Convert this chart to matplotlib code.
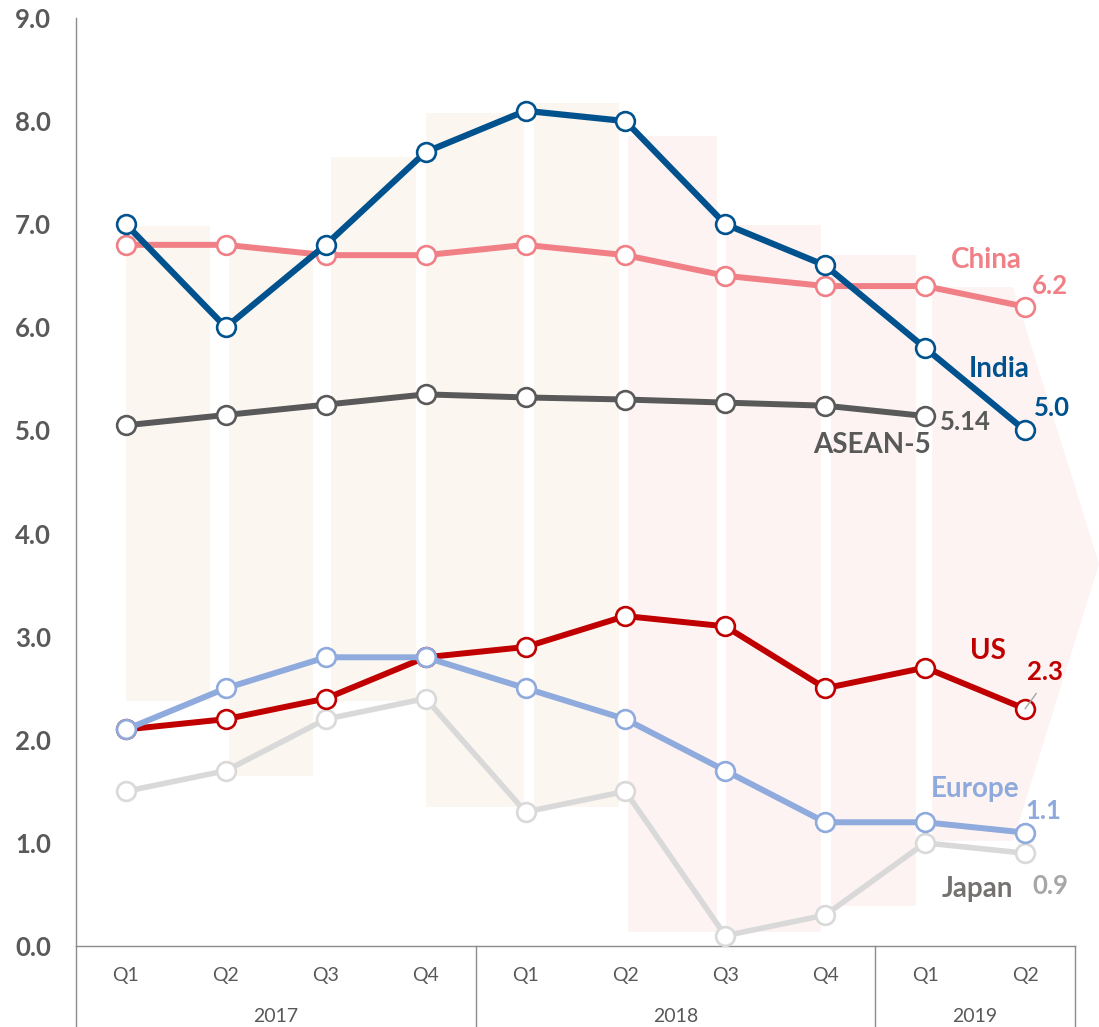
import matplotlib
matplotlib.use("Agg")
import matplotlib.pyplot as plt
from matplotlib.patches import Polygon
import matplotlib.transforms as mtransforms

plt.rcParams['font.family'] = ['Lato', 'DejaVu Sans']

# ---------------- data ----------------
quarters = ["Q1", "Q2", "Q3", "Q4", "Q1", "Q2", "Q3", "Q4", "Q1", "Q2"]
years = ["2017", "2018", "2019"]
year_spans = [(0, 3), (4, 7), (8, 9)]

india = [7.0, 6.0, 6.8, 7.7, 8.1, 8.0, 7.0, 6.6, 5.8, 5.0]
china = [6.8, 6.8, 6.7, 6.7, 6.8, 6.7, 6.5, 6.4, 6.4, 6.2]
asean5 = [5.05, 5.15, 5.25, 5.35, 5.32, 5.30, 5.27, 5.24, 5.14]
us = [2.1, 2.2, 2.4, 2.8, 2.9, 3.2, 3.1, 2.5, 2.7, 2.3]
europe = [2.1, 2.5, 2.8, 2.8, 2.5, 2.2, 1.7, 1.2, 1.2, 1.1]
japan = [1.5, 1.7, 2.2, 2.4, 1.3, 1.5, 0.1, 0.3, 1.0, 0.9]

# decorative background arrow made of floating bars
deco_left = [0.00, 1.03, 2.05, 3.00, 4.08, 5.03, 6.01, 7.06]
deco_right = [0.84, 1.87, 2.90, 3.98, 4.94, 5.92, 6.96, 7.91]
deco_top = [6.98, 6.75, 7.65, 8.08, 8.18, 7.86, 6.99, 6.70]
deco_bottom = [2.38, 1.65, 2.38, 1.35, 1.35, 0.14, 0.14, 0.39]
deco_kind = ["b", "b", "b", "b", "b", "p", "p", "p"]
head_left, head_base, head_tip = 8.07, 8.88, 9.74
head_top, head_bottom = 6.39, 1.02

# ---------------- figure ----------------
W, H = 1099, 1027
fig = plt.figure(figsize=(W / 100, H / 100), dpi=100)
ax = fig.add_axes([76 / W, 81 / H, (1075 - 76) / W, 928 / H])
ax.set_xlim(-0.5, 9.5)
ax.set_ylim(0, 9)

beige = "#FBF6F0"
pink = "#FDF3F3"
for l, r, t, b, k in zip(deco_left, deco_right, deco_top, deco_bottom, deco_kind):
    ax.bar(l, t - b, bottom=b, width=r - l, align="edge",
           color=beige if k == "b" else pink, linewidth=0, zorder=0)
arrow = Polygon([(head_left, head_top), (head_base, head_top),
                 (head_tip, (head_top + head_bottom) / 2),
                 (head_base, head_bottom), (head_left, head_bottom)],
                closed=True, facecolor=pink, edgecolor="none",
                zorder=0, clip_on=False)
ax.add_patch(arrow)

x = list(range(len(quarters)))
series = [
    (japan, "#D9D9D9", 4.0, 3),
    (us, "#C00000", 4.3, 4),
    (europe, "#8FAADC", 4.3, 5),
    (asean5, "#595959", 4.3, 6),
    (china, "#F07F86", 4.3, 7),
    (india, "#00528F", 4.5, 8),
]
for vals, col, lw, z in series:
    ax.plot(x[:len(vals)], vals, color=col, lw=lw, marker="o", ms=13.5,
            mfc="white", mec=col, mew=1.9, zorder=z, clip_on=False)

# ---------------- labels ----------------
def lab(text, xi, yv, dx, dy, color, size):
    ax.annotate(text, xy=(xi, yv), xytext=(dx, dy), textcoords="offset pixels",
                ha="center", va="center", color=color, fontsize=size,
                fontweight="bold", zorder=10, annotation_clip=False)

name_size = 20
val_size = 18.5
lab("China", 9, china[-1], -39, 47, "#F07F86", name_size)
lab("6.2", 9, china[-1], 25, 21, "#F07F86", val_size)
lab("India", 9, india[-1], -26, 61, "#00528F", name_size)
lab("5.0", 9, india[-1], 27, 22, "#00528F", val_size)
lab("5.14", 8, asean5[-1], 40, -6, "#595959", val_size)
lab("ASEAN-5", 8, asean5[-1], -53, -29, "#595959", name_size)
lab("US", 9, us[-1], -37, 58, "#C00000", name_size)
ax.annotate("2.3", xy=(9, us[-1]), xytext=(20, 37), textcoords="offset pixels",
            ha="center", va="center", color="#C00000", fontsize=val_size,
            fontweight="bold", zorder=10, annotation_clip=False,
            arrowprops=dict(arrowstyle="-", color="#A6A6A6", lw=1.0,
                            shrinkA=6, shrinkB=0, relpos=(0.45, 0.0)))
lab("Europe", 9, europe[-1], -50, 44, "#8EA9DB", name_size)
lab("1.1", 9, europe[-1], 18, 22, "#8EA9DB", val_size)
lab("Japan", 9, japan[-1], -48, -36, "#767171", name_size)
lab("0.9", 9, japan[-1], 25, -33, "#A6A6A6", val_size)

# ---------------- axes styling ----------------
for s in ["top", "right"]:
    ax.spines[s].set_visible(False)
for s in ["left", "bottom"]:
    ax.spines[s].set_color("#8C8C8C")
    ax.spines[s].set_linewidth(1.0)

ax.set_yticks(range(0, 10))
ax.set_yticklabels([f"{v:.1f}" for v in range(0, 10)])
ax.tick_params(axis="y", length=0, pad=18, labelsize=18.5, labelcolor="#595959")
for t in ax.get_yticklabels():
    t.set_fontweight("bold")
ax.set_xticks([])

trans = mtransforms.blended_transform_factory(ax.transData, ax.transAxes)
axh = 928.0
for i, q in enumerate(quarters):
    ax.text(i, -29 / axh, q, transform=trans, ha="center", va="center",
            fontsize=14, color="#595959")
for yr, (a, b) in zip(years, year_spans):
    ax.text((a + b) / 2, -71 / axh, yr, transform=trans, ha="center",
            va="center", fontsize=14, color="#595959")
for xb in [-0.5, 3.5, 7.5, 9.5]:
    ax.plot([xb, xb], [0, -0.1], transform=trans, color="#8C8C8C", lw=1.0,
            clip_on=False, zorder=1)

fig.savefig("out.png", dpi=100, facecolor="white")
